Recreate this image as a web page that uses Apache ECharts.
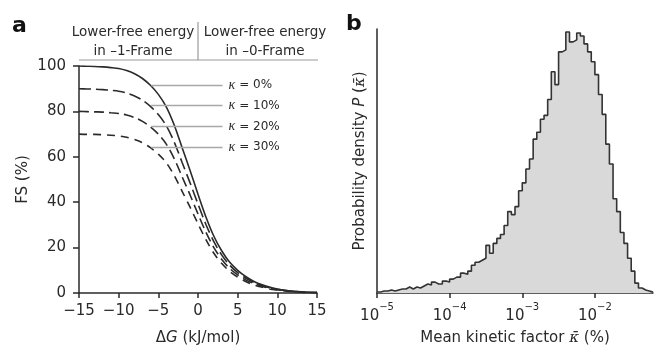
<!DOCTYPE html>
<html>
<head>
  <meta charset="utf-8">
  <script src="https://cdn.jsdelivr.net/npm/echarts@6/dist/echarts.min.js"></script>
  <style>
  html,body{margin:0;padding:0;background:#fff}
  #main{width:654px;height:351px}
  </style>
</head>
<body>
<div id="main"></div>
<script type="text/javascript">
// ---- panel a : FS vs dG ----
var dG = [-15,-14,-13,-12,-11,-10,-9,-8,-7,-6,-5,-4,-3,-2,-1,0,1,2,3,4,5,6,7,8,9,10,11,12,13,14,15];
var fsK0  = [100,99.9,99.8,99.6,99.3,98.9,98.0,96.6,94.5,91.5,87.5,82,74,64,54,43.5,33.5,25,18.5,13.5,10,7.3,5.2,3.7,2.6,1.8,1.2,0.8,0.5,0.3,0.2];
var fsK10 = [90,89.9,89.8,89.6,89.3,88.9,88.1,86.8,84.9,82.2,78.6,73.7,66.5,57.5,48.5,39.2,30.2,22.6,16.7,12.2,9,6.6,4.7,3.3,2.3,1.6,1.1,0.7,0.45,0.3,0.2];
var fsK20 = [80,79.9,79.8,79.7,79.4,79.1,78.4,77.3,75.6,73.2,70,65.6,59.2,51.2,43.2,34.8,26.8,20,14.8,10.8,8,5.8,4.2,3,2.1,1.4,1,0.65,0.4,0.25,0.15];
var fsK30 = [70,69.9,69.9,69.7,69.5,69.2,68.6,67.6,66.2,64,61.2,57.4,51.8,44.8,37.8,30.5,23.5,17.5,13,9.5,7,5.1,3.6,2.6,1.8,1.3,0.85,0.55,0.35,0.2,0.15];
var kappaNames = ['0%', '10%', '20%', '30%'];
var kappaLabelY = [91.7, 82.5, 73.4, 64.2];
var kappaLabelX = [-5.9, 3.1];

// ---- panel b : histogram of mean kinetic factor (log10 bins) ----
var binStart = -5;     // log10 of left edge
var binWidth = 0.05;   // decades
var density = [1,2,2,3,2,3,4,4,6,4,6,5,7,9,8,11,9,9,12,11,
               14,16,16,20,19,22,28,31,33,35,48,40,50,55,59,68,82,79,87,103,
               111,125,135,155,162,175,179,195,223,210,243,245,263,253,255,262,259,251,243,233,
               220,200,180,150,130,95,82,61,50,35,22,10,5,3,2,1];
var decadeTicks = [-5, -4, -3, -2];

var font = 'DejaVu Sans';
var ink = '#2a2a2a';

function minus(v) { return v < 0 ? '\u2212' + Math.abs(v) : String(v); }

var histData = [];
for (var i = 0; i < density.length; i++) {
    histData.push([binStart + i * binWidth, density[i]]);
}
histData.push([binStart + density.length * binWidth, density[density.length - 1]]);

function fsSeries(vals, dash, idx) {
    var pts = [];
    for (var i = 0; i < dG.length; i++) pts.push([dG[i], vals[i]]);
    return {
        type: 'line', xAxisIndex: 0, yAxisIndex: 0, data: pts, smooth: 0.3,
        symbol: 'none', z: 3,
        lineStyle: { color: ink, width: 1.6, type: dash },
        markLine: {
            silent: true, symbol: ['none', 'none'], animation: false,
            lineStyle: { color: '#a8a8a8', width: 1.4, type: 'solid' },
            label: {
                show: true, position: 'end', distance: 6,
                formatter: '{k|\u03ba}{t| = ' + kappaNames[idx] + '}',
                rich: {
                    k: { fontFamily: 'Liberation Serif', fontStyle: 'italic', fontSize: 14, color: ink },
                    t: { fontFamily: font, fontSize: 12, color: ink }
                }
            },
            data: [[{ coord: [kappaLabelX[0], kappaLabelY[idx]] }, { coord: [kappaLabelX[1], kappaLabelY[idx]] }]]
        }
    };
}

var axisLine = { show: true, onZero: false, lineStyle: { color: ink, width: 1.5 } };
var tickStyle = { show: true, length: 5, lineStyle: { color: ink, width: 1.5 } };

var myChart = echarts.init(document.getElementById('main'));
var option = {
    animation: false,
    textStyle: { fontFamily: font },
    grid: [
        { left: 79, top: 66, width: 238, height: 229 },
        { left: 377, top: 29, width: 276, height: 266 }
    ],
    xAxis: [
        {
            gridIndex: 0, type: 'value', min: -15, max: 15, interval: 5,
            axisLine: axisLine, axisTick: tickStyle, splitLine: { show: false },
            axisLabel: { fontSize: 15, color: ink, margin: 11, fontFamily: font, formatter: minus },
            name: '{n|\u0394}{i|G}{n| (kJ/mol)}', nameLocation: 'middle', nameGap: 38,
            nameTextStyle: {
                rich: {
                    n: { fontSize: 15, color: ink, fontFamily: font },
                    i: { fontSize: 15, color: ink, fontFamily: font, fontStyle: 'italic' }
                }
            }
        },
        {
            gridIndex: 1, type: 'value', min: -5, max: -1.2,
            axisLine: axisLine, splitLine: { show: false },
            axisTick: { show: true, length: 5, lineStyle: { color: ink, width: 1.5 }, customValues: decadeTicks },
            axisLabel: {
                margin: 9, customValues: decadeTicks,
                formatter: function (v) { return '{b|10}{s|' + minus(v) + '}'; },
                rich: {
                    b: { fontSize: 15, color: ink, fontFamily: font, verticalAlign: 'bottom', lineHeight: 22 },
                    s: { fontSize: 10, color: ink, fontFamily: font, verticalAlign: 'top', lineHeight: 22 }
                }
            },
            name: '{n|Mean kinetic factor }{k|\u03ba\u0304}{n| (%)}', nameLocation: 'middle', nameGap: 38,
            nameTextStyle: {
                rich: {
                    n: { fontSize: 15, color: ink, fontFamily: font },
                    k: { fontSize: 15, color: ink, fontFamily: 'DejaVu Serif', fontStyle: 'italic' }
                }
            }
        }
    ],
    yAxis: [
        {
            gridIndex: 0, type: 'value', min: 0, max: 100, interval: 20,
            axisLine: axisLine, axisTick: { show: true, length: 6, lineStyle: { color: ink, width: 1.5 } },
            splitLine: { show: false },
            axisLabel: { fontSize: 15, color: ink, margin: 13, fontFamily: font },
            name: 'FS (%)', nameLocation: 'middle', nameGap: 48,
            nameTextStyle: { fontSize: 15, color: ink, fontFamily: font }
        },
        {
            gridIndex: 1, type: 'value', min: 0, max: 266,
            axisLine: axisLine, axisTick: { show: false }, axisLabel: { show: false },
            splitLine: { show: false },
            name: '{n|Probability density }{i|P}{n| (}{k|\u03ba\u0304}{n|)}', nameLocation: 'middle', nameGap: 9,
            nameTextStyle: {
                rich: {
                    n: { fontSize: 15, color: ink, fontFamily: font },
                    i: { fontSize: 15, color: ink, fontFamily: font, fontStyle: 'italic' },
                    k: { fontSize: 15, color: ink, fontFamily: 'DejaVu Serif', fontStyle: 'italic' }
                }
            }
        }
    ],
    series: [
        fsSeries(fsK0, 'solid', 0),
        fsSeries(fsK10, [12, 5], 1),
        fsSeries(fsK20, [10, 5], 2),
        fsSeries(fsK30, [8, 6], 3),
        {
            type: 'line', xAxisIndex: 1, yAxisIndex: 1, data: histData, step: 'end',
            symbol: 'none',
            lineStyle: { color: '#333', width: 1.6 },
            areaStyle: { color: '#d9d9d9', opacity: 1 }
        }
    ],
    graphic: [
        { type: 'text', left: 12, top: 15, style: { text: 'a', font: 'bold 22px "DejaVu Sans"', fill: '#111' } },
        { type: 'text', left: 346, top: 13, style: { text: 'b', font: 'bold 22px "DejaVu Sans"', fill: '#111' } },
        { type: 'text', x: 133, y: 42, style: { text: 'Lower-free energy\nin \u20131-Frame', font: '13.5px "DejaVu Sans"', fill: ink, align: 'center', verticalAlign: 'middle', lineHeight: 19 } },
        { type: 'text', x: 265, y: 42, style: { text: 'Lower-free energy\nin \u20130-Frame', font: '13.5px "DejaVu Sans"', fill: ink, align: 'center', verticalAlign: 'middle', lineHeight: 19 } },
        { type: 'line', shape: { x1: 79, y1: 60, x2: 318, y2: 60 }, style: { stroke: '#9a9a9a', lineWidth: 1.2 } },
        { type: 'line', shape: { x1: 198, y1: 22, x2: 198, y2: 60 }, style: { stroke: '#9a9a9a', lineWidth: 1.2 } }
    ]
};
myChart.setOption(option);
</script>
</body>
</html>
